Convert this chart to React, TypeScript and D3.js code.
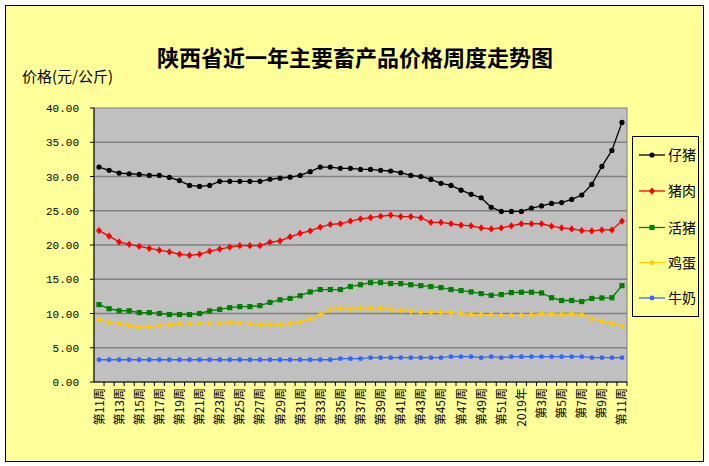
import React from "react";
import * as d3 from "d3";

// categories: week 11 of 2018 through week 11 of 2019
const weeks = [
  "第11周", "第12周", "第13周", "第14周", "第15周", "第16周", "第17周", "第18周",
  "第19周", "第20周", "第21周", "第22周", "第23周", "第24周", "第25周", "第26周",
  "第27周", "第28周", "第29周", "第30周", "第31周", "第32周", "第33周", "第34周",
  "第35周", "第36周", "第37周", "第38周", "第39周", "第40周", "第41周", "第42周",
  "第43周", "第44周", "第45周", "第46周", "第47周", "第48周", "第49周", "第50周",
  "第51周", "第52周", "2019年", "第2周", "第3周", "第4周", "第5周", "第6周",
  "第7周", "第8周", "第9周", "第10周", "第11周",
];

const piglet = [
  31.37, 30.9, 30.5, 30.4, 30.3, 30.15, 30.15, 29.87, 29.4, 28.7,
  28.55, 28.7, 29.3, 29.3, 29.3, 29.3, 29.3, 29.6, 29.75, 29.9,
  30.15, 30.7, 31.37, 31.37, 31.2, 31.2, 31.03, 31.03, 30.9, 30.8,
  30.55, 30.15, 30.0, 29.57, 29.0, 28.7, 28.0, 27.4, 26.9, 25.5,
  24.9, 24.9, 24.9, 25.4, 25.7, 26.07, 26.2, 26.65, 27.3, 28.85,
  31.47, 33.8, 37.9,
];

const pork = [
  22.1, 21.3, 20.45, 20.1, 19.8, 19.5, 19.25, 19.0, 18.65, 18.5,
  18.65, 19.1, 19.4, 19.7, 19.9, 19.9, 19.9, 20.4, 20.6, 21.2,
  21.7, 22.05, 22.6, 23.0, 23.1, 23.5, 23.8, 24.0, 24.2, 24.35,
  24.15, 24.15, 23.97, 23.3, 23.3, 23.1, 22.9, 22.8, 22.5, 22.35,
  22.5, 22.8, 23.1, 23.1, 23.1, 22.75, 22.5, 22.35, 22.1, 22.05,
  22.2, 22.2, 23.5,
];

const livePig = [
  11.3, 10.7, 10.4, 10.4, 10.13, 10.13, 10.0, 9.85, 9.85, 9.85,
  10.0, 10.37, 10.6, 10.85, 11.0, 11.0, 11.15, 11.63, 12.0, 12.2,
  12.6, 13.15, 13.5, 13.5, 13.5, 13.93, 14.2, 14.5, 14.5, 14.37,
  14.37, 14.2, 14.07, 13.93, 13.78, 13.5, 13.35, 13.15, 12.9, 12.66,
  12.76, 13.05, 13.1, 13.1, 13.0, 12.3, 11.9, 11.9, 11.74, 12.2,
  12.27, 12.3, 14.07,
];

const egg = [
  9.05, 8.7, 8.5, 8.22, 8.03, 8.05, 8.3, 8.35, 8.5, 8.5,
  8.55, 8.55, 8.55, 8.7, 8.6, 8.5, 8.37, 8.37, 8.37, 8.55,
  8.75, 9.2, 9.84, 10.57, 10.8, 10.6, 10.8, 10.8, 10.8, 10.6,
  10.47, 10.32, 10.22, 10.2, 10.13, 10.1, 10.0, 9.84, 9.84, 9.8,
  9.74, 9.74, 9.74, 9.8, 9.93, 9.93, 9.84, 9.93, 9.84, 9.2,
  8.86, 8.5, 8.17,
];

const milk = [
  3.25, 3.25, 3.25, 3.25, 3.25, 3.25, 3.25, 3.25, 3.25, 3.25,
  3.25, 3.25, 3.25, 3.25, 3.25, 3.25, 3.25, 3.25, 3.25, 3.25,
  3.25, 3.25, 3.25, 3.25, 3.4, 3.4, 3.4, 3.55, 3.55, 3.55,
  3.55, 3.55, 3.55, 3.55, 3.55, 3.7, 3.7, 3.7, 3.55, 3.7,
  3.55, 3.7, 3.7, 3.7, 3.7, 3.7, 3.7, 3.7, 3.7, 3.55,
  3.55, 3.55, 3.55,
];

const yTicks = [0, 5, 10, 15, 20, 25, 30, 35, 40];

type Shape = "circle" | "diamond" | "square" | "smallDiamond" | "dot";

const series: { name: string; values: number[]; color: string; shape: Shape }[] = [
  { name: "仔猪", values: piglet, color: "#000000", shape: "circle" },
  { name: "猪肉", values: pork, color: "#ff0000", shape: "diamond" },
  { name: "活猪", values: livePig, color: "#008000", shape: "square" },
  { name: "鸡蛋", values: egg, color: "#ffcc00", shape: "smallDiamond" },
  { name: "牛奶", values: milk, color: "#3366ff", shape: "dot" },
];

const W = 709;
const H = 466;
const plot = { left: 94, top: 108, right: 627, bottom: 382 };

const x = d3
  .scaleBand<number>()
  .domain(weeks.map((_, i) => i))
  .range([plot.left, plot.right]);

const y = d3.scaleLinear().domain([0, 40]).range([plot.bottom, plot.top]);

const cx = (i: number) => (x(i) ?? 0) + x.bandwidth() / 2;

const Marker = ({ shape, color, px, py }: { shape: Shape; color: string; px: number; py: number }) => {
  switch (shape) {
    case "circle":
      return <circle cx={px} cy={py} r={2.6} fill={color} />;
    case "dot":
      return <circle cx={px} cy={py} r={2.4} fill={color} />;
    case "square":
      return <rect x={px - 2.6} y={py - 2.6} width={5.2} height={5.2} fill={color} />;
    case "diamond":
      return (
        <path
          d={`M${px},${py - 3.6}L${px + 3},${py}L${px},${py + 3.6}L${px - 3},${py}Z`}
          fill={color}
        />
      );
    default:
      return (
        <path
          d={`M${px},${py - 3.2}L${px + 2.8},${py}L${px},${py + 3.2}L${px - 2.8},${py}Z`}
          fill={color}
        />
      );
  }
};

export default function App() {
  const line = d3
    .line<number>()
    .x((_, i) => cx(i))
    .y((d) => y(d));

  const cjk = "'Noto Sans CJK SC', sans-serif";
  const legendY = [155, 191, 227.5, 262.5, 298];

  return (
    <svg
      width={W}
      height={H}
      style={{ position: "absolute", left: 0, top: 0, background: "#ffffff" }}
    >
      {/* chart area */}
      <rect x={5.5} y={5.5} width={698} height={456} fill="#ffff99" stroke="#000" strokeWidth={1} />

      {/* title */}
      <text
        x={355}
        y={66}
        textAnchor="middle"
        fontFamily={cjk}
        fontWeight="bold"
        fontSize={22}
        fill="#000"
      >
        陕西省近一年主要畜产品价格周度走势图
      </text>

      <text x={22} y={82} fontFamily={cjk} fontSize={15} fill="#000">
        价格(元/公斤)
      </text>

      {/* plot area */}
      <rect
        x={plot.left}
        y={plot.top}
        width={plot.right - plot.left}
        height={plot.bottom - plot.top}
        fill="#c0c0c0"
        stroke="#808080"
      />
      {yTicks.slice(1, -1).map((t) => (
        <line key={t} x1={plot.left} x2={plot.right} y1={y(t)} y2={y(t)} stroke="#808080" strokeWidth={1.5} />
      ))}

      {/* y axis */}
      <line x1={plot.left} x2={plot.left} y1={plot.top} y2={plot.bottom} stroke="#000" />
      {yTicks.map((t) => (
        <g key={t}>
          <line x1={plot.left - 4} x2={plot.left} y1={y(t)} y2={y(t)} stroke="#000" />
          <text
            x={79}
            y={y(t) + 4}
            textAnchor="end"
            fontFamily="'Liberation Mono', monospace"
            fontSize={11}
            fill="#000"
          >
            {d3.format(".2f")(t)}
          </text>
        </g>
      ))}

      {/* x axis */}
      <line x1={plot.left} x2={plot.right} y1={plot.bottom} y2={plot.bottom} stroke="#000" />
      {weeks.map((_, i) => (
        <line
          key={i}
          x1={(x(i) ?? 0) + x.bandwidth()}
          x2={(x(i) ?? 0) + x.bandwidth()}
          y1={plot.bottom}
          y2={plot.bottom + 4}
          stroke="#000"
        />
      ))}
      {weeks.map((w, i) =>
        i % 2 === 0 ? (
          <text
            key={i}
            transform={`translate(${cx(i) + 4.5},${plot.bottom + 6}) rotate(-90)`}
            textAnchor="end"
            fontFamily={cjk}
            fontSize={12}
            fill="#000"
          >
            {w}
          </text>
        ) : null
      )}

      {/* series */}
      {series.map((s) => (
        <g key={s.name}>
          <path d={line(s.values) ?? ""} fill="none" stroke={s.color} strokeWidth={1.3} />
          {s.values.map((v, i) => (
            <Marker key={i} shape={s.shape} color={s.color} px={cx(i)} py={y(v)} />
          ))}
        </g>
      ))}

      {/* legend */}
      <rect x={632.5} y={136.5} width={66} height={180} fill="#ffff99" stroke="#000" />
      {series.map((s, k) => (
        <g key={s.name}>
          <line x1={639} x2={665} y1={legendY[k]} y2={legendY[k]} stroke={s.color} strokeWidth={1.3} />
          <Marker shape={s.shape} color={s.color} px={652} py={legendY[k]} />
          <text x={668} y={legendY[k] + 5} fontFamily={cjk} fontSize={14} fill="#000">
            {s.name}
          </text>
        </g>
      ))}
    </svg>
  );
}
